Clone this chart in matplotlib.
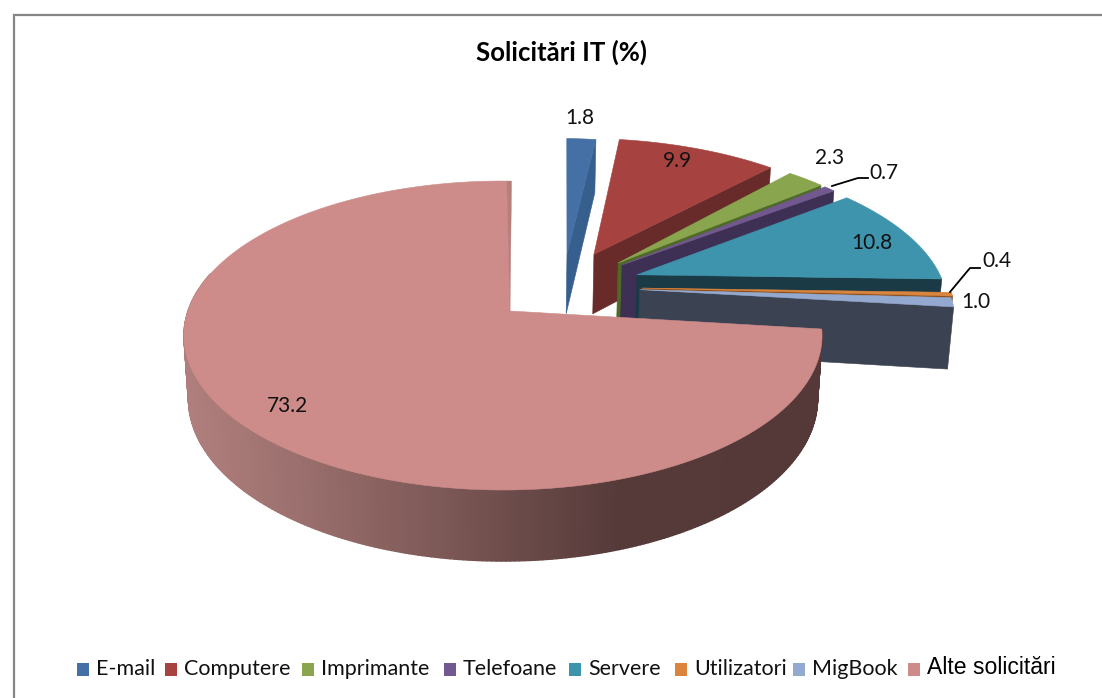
import numpy as np
import matplotlib
matplotlib.use("Agg")
import matplotlib.pyplot as plt
from matplotlib.patches import Polygon, Rectangle
from matplotlib.collections import PolyCollection
from matplotlib.colors import to_rgb

categories = ["E-mail", "Computere", "Imprimante", "Telefoane", "Servere", "Utilizatori", "MigBook", "Alte solicitări"]
values = [1.8, 9.9, 2.3, 0.7, 10.8, 0.4, 1.0, 73.2]
value_labels = ["1.8", "9.9", "2.3", "0.7", "10.8", "0.4", "1.0", "73.2"]

top_colors = ["#4470a6", "#a64340", "#89a54e", "#71588f", "#3f94ad", "#db843d", "#93a9cf", "#cd8c8a"]
wall_colors = ["#365f8e", "#682b29", "#4f6a28", "#3e2f54", "#1a3a45", "#8a5020", "#3b4252", "#8a6160"]

# how far each wedge is pulled out, in pie radii (x, y on the pie plane)
explode_x = [0.216, 0.307, 0.385, 0.397, 0.442, 0.452, 0.444, 0.0]
explode_y = [0.40, 0.40, 0.336, 0.321, 0.25, 0.156, 0.145, 0.0]
rotation = [1.8, 1.8, 0.8, 0.8, 0.0, 0.0, 0.0, 0.0]

# projection, all in pixels of the output picture
CX, CY = 503.0, 311.0
RADIUS = 315.0
SQUASH = 150.6
PERSPECTIVE = 0.1586
THICKNESS = 63.3
DEPTH_SHRINK = 0.014
ALTE_APEX_SHIFT = 7.0
ALTE_END_EXTRA = 1.8

label_pos = [(580, 118), (677, 161), (830, 158), (884, 173), (872, 243), (997, 261), (976, 302), (288, 406)]
legend_x = [77, 165, 302, 444, 569, 675, 793, 908]
legend_text_x = [96, 184, 321, 463, 588, 694, 812, 927]


def project(x, y, z=0.0):
    """pie plane coordinates (radii) to pixels, z=1 is the bottom face"""
    f = 1.0 / (1.0 + PERSPECTIVE * y + DEPTH_SHRINK * z)
    return CX + RADIUS * x * f, CY + (THICKNESS * z - SQUASH * y) * f


def arc(t0, t1, ex=0.0, ey=0.0, z=0.0, n=80):
    t = np.radians(np.linspace(t0, t1, n))
    return np.column_stack(project(ex + np.sin(t), ey + np.cos(t), z))


fig = plt.figure(figsize=(11.02, 6.98), dpi=100)
ax = fig.add_axes([0, 0, 1, 1])
ax.set_xlim(0, 1102)
ax.set_ylim(698, 0)
ax.axis("off")

plt.rcParams["font.family"] = ["Lato", "DejaVu Sans"]

# chart frame, right and bottom run off the picture
ax.plot([13.5, 13.5, 1102], [698, 14.5, 14.5], color="#868686", lw=1.6, solid_joinstyle="miter")

total = sum(values)
edges = np.concatenate([[0.0], np.cumsum(values)]) / total * 360.0

# exploded wedges, back to front
for i in range(7):
    t0 = edges[i] + rotation[i]
    t1 = edges[i + 1] + rotation[i]
    ex, ey = explode_x[i], explode_y[i]
    apex_top = project(ex, ey, 0)
    apex_bot = project(ex, ey, 1)
    outer_top = arc(t1, t1, ex, ey, 0, 1)[0]
    outer_bot = arc(t1, t1, ex, ey, 1, 1)[0]
    ax.add_patch(Polygon([apex_top, outer_top, outer_bot, apex_bot], closed=True,
                         fc=wall_colors[i], ec=wall_colors[i], lw=0.4, zorder=2 + i))
    face = np.vstack([[apex_top], arc(t0, t1, ex, ey)])
    ax.add_patch(Polygon(face, closed=True, fc=top_colors[i], ec=top_colors[i], lw=0.4, zorder=2 + i))

# big slice: side wall with the shading running left to right
t0, t1 = edges[7], 360.0 + ALTE_END_EXTRA
wall_t = np.linspace(t0, 285.0, 260)
top_edge = arc(t0, 285.0, n=260)
bot_edge = arc(t0, 285.0, z=1, n=260)
shade_x = [184, 300, 400, 500, 620, 822]
shade_c = np.array([to_rgb(c) for c in ["#b07f7d", "#9a6f6d", "#855f5d", "#6f4e4c", "#553a39", "#543938"]])
quads, quad_colors = [], []
for j in range(len(wall_t) - 1):
    quads.append([top_edge[j], top_edge[j + 1], bot_edge[j + 1], bot_edge[j]])
    xm = 0.5 * (top_edge[j][0] + top_edge[j + 1][0])
    quad_colors.append([np.interp(xm, shade_x, shade_c[:, k]) for k in range(3)])
ax.add_collection(PolyCollection(quads, facecolors=quad_colors, edgecolors=quad_colors, linewidths=1.0, zorder=12))

apex = (CX + ALTE_APEX_SHIFT, CY)
face = np.vstack([[apex], arc(t0, t1 - 1.0, n=300)])
ax.add_patch(Polygon(face, closed=True, fc=top_colors[7], ec=top_colors[7], lw=0.4, zorder=13))
# thin piece of the cut wall next to the top of the slice
strip = np.vstack([[apex], arc(t1 - 1.0, t1, n=5)])
ax.add_patch(Polygon(strip, closed=True, fc="#b57f7c", ec="#b57f7c", lw=0.3, zorder=13))

# leader lines for the two small labels
ax.plot([832, 858, 868], [186, 178, 178], color="black", lw=1.3, zorder=14)
ax.plot([950, 970, 980], [292, 268, 268], color="black", lw=1.3, zorder=14)

for lab, (x, y) in zip(value_labels, label_pos):
    ax.text(x, y, lab, fontsize=15, ha="center", va="center", color="#111111", zorder=15)

ax.text(562, 52, "Solicitări IT (%)", fontsize=18.5, fontweight="bold", ha="center", va="center", color="black")

# legend
for i, name in enumerate(categories):
    ax.add_patch(Rectangle((legend_x[i], 663), 12, 13, fc=top_colors[i], ec="none"))
    if i == 7:
        ax.text(legend_text_x[i], 667, name, fontsize=16.6, family=["Liberation Sans"], ha="left", va="center", color="black")
    else:
        ax.text(legend_text_x[i], 669, name, fontsize=15.5, ha="left", va="center", color="#111111")

fig.savefig("out.png", dpi=100)
